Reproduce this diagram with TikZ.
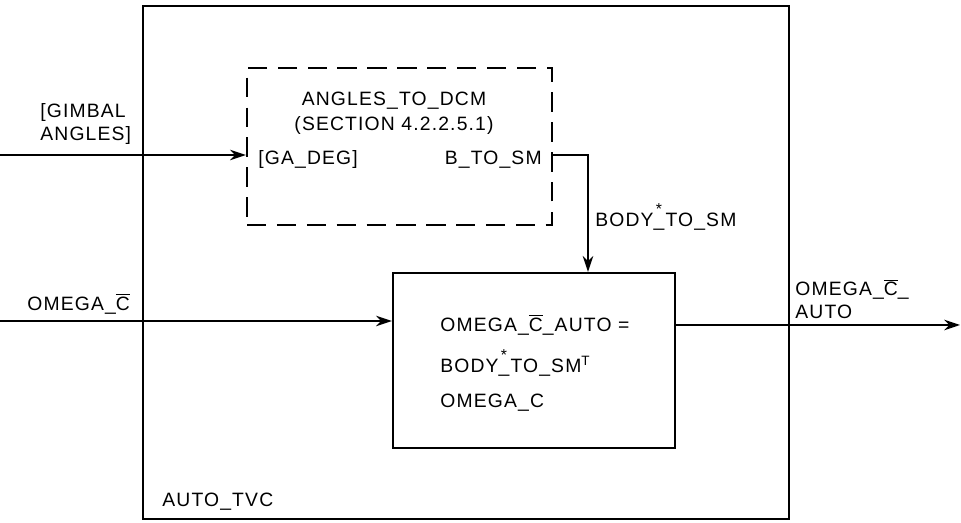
\documentclass[tikz,border=0pt]{standalone}
\usepackage{fontspec}
\setmainfont{Liberation Sans}[LetterSpace=6]
\usetikzlibrary{arrows.meta}

% bar over a letter, star over an underscore
\newcommand{\barred}[1]{$\overline{\mbox{#1}}$}
\newcommand{\starus}{\rlap{\raisebox{0.62em}{\hspace{0.12em}\small*}}\_}

\begin{document}
\begin{tikzpicture}[
    font=\fontsize{11}{13}\selectfont,
    box/.style={draw, line width=1.3pt, inner sep=0pt},
    flow/.style={line width=1pt, -{Stealth[length=9pt,width=6pt]}},
    lbl/.style={inner sep=0pt, align=left}
  ]

% Frame (961 x 523 px at 0.02 cm per px)
\useasboundingbox (0,0) rectangle (19.22,-10.46);

% Outer block
\node[box, minimum width=12.92cm, minimum height=10.26cm] (tvc) at (9.32,-5.25) {};
\node[lbl, anchor=west] (tvcname) at (3.24,-10.04) {AUTO\_TVC};

% Dashed sub-block
\node[draw, line width=1.3pt, dash pattern=on 11pt off 6pt, inner sep=0pt,
      minimum width=6.1cm, minimum height=3.14cm] (dcm) at (7.99,-2.93) {};
\node[align=center, inner sep=0pt] (dcmname) at (7.88,-2.27)
      {ANGLES\_TO\_DCM\\[1pt](SECTION 4.2.2.5.1)};
\node[lbl, anchor=west] (gadeg) at (5.16,-3.2) {[GA\_DEG]};
\node[lbl, anchor=east] (btosm) at (10.84,-3.2) {B\_TO\_SM};

% Solid sub-block
\node[box, minimum width=5.64cm, minimum height=3.5cm] (auto) at (10.68,-7.21) {};
\node[lbl, anchor=west] (autotext) at (8.8,-7.26)
      {OMEGA\_\barred{C}\_AUTO =\\[7pt] BODY\starus TO\_SM\textsuperscript{T}\\[7pt] OMEGA\_C};

% Inputs
\coordinate (gin) at (0,-3.1);
\coordinate (win) at (0,-6.42);
\coordinate (wout) at (19.2,-6.5);
\coordinate (bend) at (11.76,-3.1);
\node[lbl, anchor=south west] (gimbal) at (0.8,-2.9) {[GIMBAL\\ANGLES]};
\node[lbl, anchor=west] (omega) at (0.54,-6.08) {OMEGA\_\barred{C}};

\draw[flow] (gin) -- (gin -| dcm.west);
\draw[flow] (win) -- (win -| auto.west);

% Matrix into solid block
\draw[flow] (bend -| dcm.east) -- (bend) -- (bend |- auto.north);
\node[lbl, anchor=west] (bodylbl) at (11.9,-4.34) {BODY\starus TO\_SM};

% Output
\draw[flow] (wout -| auto.east) -- (wout);
\node[lbl, anchor=west] (outlbl) at (15.9,-5.98) {OMEGA\_\barred{C}\_\\AUTO};

\end{tikzpicture}
\end{document}
